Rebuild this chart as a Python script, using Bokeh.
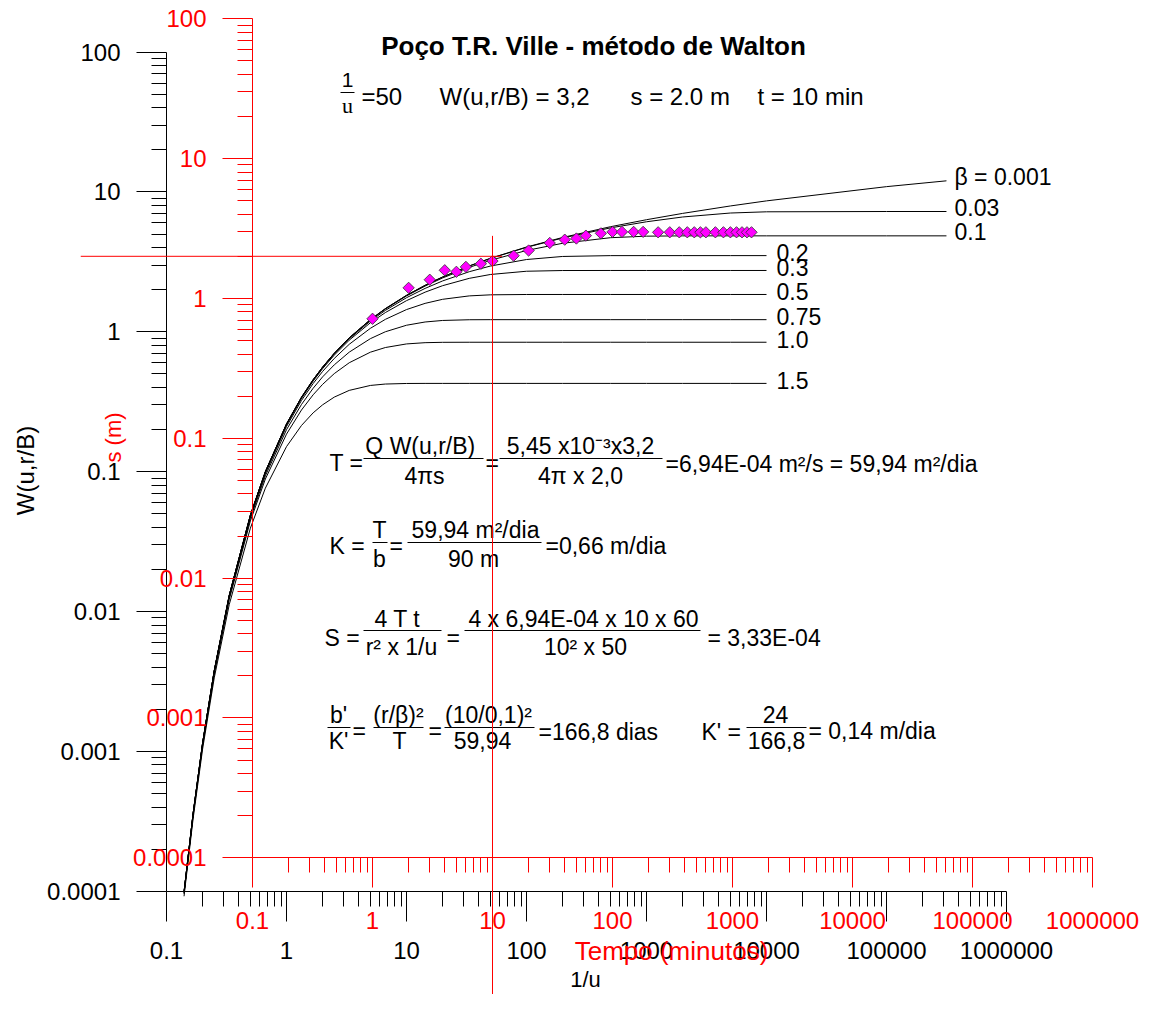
import math
from bokeh.plotting import figure
from bokeh.models import Range1d, LogAxis, FixedTicker, CustomJSTickFormatter, Label
from bokeh.core.properties import value
from bokeh.embed import file_html
from bokeh.resources import INLINE

# ---------------- data ----------------
# type curves: 1/u and W(u, r/B) (Walton / Hantush leaky curves)
INV_U = [0.14, 0.1667, 0.2, 0.25, 0.3333, 0.5, 0.6667, 1, 1.333, 1.667, 2, 2.5, 3.333,
         5, 6.667, 10, 14.29, 20, 33.33, 50, 100, 200, 500, 1000, 2000, 5000, 10000]
INV_U_LONG = INV_U + [100000, 316000]

W_B0001 = [0.0000987, 0.00036, 0.001148, 0.003779, 0.01305, 0.0489, 0.1, 0.2194, 0.3403,
           0.4544, 0.5598, 0.7024, 0.9057, 1.2227, 1.4645, 1.8229, 2.1508, 2.4679, 2.9591,
           3.3547, 4.0379, 4.7261, 5.6394, 6.3315, 7.0242, 7.9402, 8.6332, 10.911, 12.01]
W_B003 = [0.0000987, 0.00036, 0.001148, 0.003779, 0.01305, 0.0489, 0.1, 0.2194, 0.3403,
          0.4544, 0.5597, 0.7023, 0.9053, 1.2221, 1.4635, 1.8213, 2.1483, 2.4642, 2.9525,
          3.3444, 4.0167, 4.6829, 5.531, 6.120, 6.6216, 7.0683, 7.2122, 7.247, 7.247]
W_B01 = [0.0000987, 0.00036, 0.001148, 0.003778, 0.01304, 0.04885, 0.09988, 0.2190, 0.3396,
         0.4533, 0.5582, 0.7000, 0.9018, 1.2155, 1.4538, 1.805, 2.1232, 2.4271, 2.889,
         3.2442, 3.8150, 4.2959, 4.7078, 4.8292, 4.8530, 4.8541, 4.8541, 4.8541, 4.8541]
W_B02 = [0.0000986, 0.00036, 0.001146, 0.003771, 0.01301, 0.0487, 0.0995, 0.2179, 0.3374,
         0.4498, 0.5533, 0.6927, 0.8902, 1.1944, 1.4227, 1.7527, 2.0433, 2.3110, 2.6895,
         2.9521, 3.2875, 3.4567, 3.5043, 3.5054, 3.5054, 3.5054, 3.5054]
W_B03 = [0.0000984, 0.000359, 0.001143, 0.003761, 0.01297, 0.04848, 0.0989, 0.2161, 0.3339,
         0.4441, 0.5453, 0.6809, 0.8713, 1.1602, 1.3725, 1.6703, 1.9207, 2.1371, 2.4111,
         2.5688, 2.7105, 2.7429, 2.745, 2.745, 2.745, 2.745, 2.745]
W_B05 = [0.000098, 0.000357, 0.001136, 0.003729, 0.01283, 0.04774, 0.0970, 0.2103, 0.3227,
         0.4266, 0.5207, 0.6446, 0.8142, 1.0590, 1.2275, 1.4421, 1.5972, 1.7074, 1.8062,
         1.8378, 1.8485, 1.8488, 1.8488, 1.8488, 1.8488, 1.8488, 1.8488]
W_B075 = [0.000097, 0.0003526, 0.00112, 0.003668, 0.01256, 0.04633, 0.09339, 0.19957, 0.30218,
          0.39464, 0.47612, 0.58013, 0.7154, 0.8932, 1.0007, 1.1141, 1.1754, 1.2052, 1.2196,
          1.2211, 1.2212, 1.2212, 1.2212, 1.2212, 1.2212, 1.2212, 1.2212]
W_B10 = [0.0000956, 0.000347, 0.0010992, 0.0035844, 0.012194, 0.044435, 0.088566, 0.18549, 0.27583,
         0.35435, 0.4210, 0.5023, 0.6009, 0.7147, 0.7719, 0.8190, 0.8360, 0.8409, 0.8420,
         0.8420, 0.8420, 0.8420, 0.8420, 0.8420, 0.8420, 0.8420, 0.8420]
W_B15 = [0.000092, 0.000331, 0.001041, 0.003355, 0.011204, 0.039447, 0.07619, 0.15095, 0.2138,
         0.26331, 0.30051, 0.34119, 0.38119, 0.41342, 0.42309, 0.42711, 0.4276, 0.4276, 0.4276,
         0.4276, 0.4276, 0.4276, 0.4276, 0.4276, 0.4276, 0.4276, 0.4276]

LONG_LABELS = ["\u03b2 = 0.001", "0.03", "0.1"]
SHORT_LABELS = ["0.2", "0.3", "0.5", "0.75", "1.0", "1.5"]

# field data: time (min) and drawdown (m)
T_MIN = [1, 2, 3, 4, 5, 6, 8, 10, 15, 20, 30, 40, 50, 60, 80, 100, 120, 150, 180, 240, 300,
         360, 420, 480, 540, 600, 720, 840, 960, 1080, 1200, 1320, 1440]
S_M = [0.715, 1.19, 1.36, 1.59, 1.55, 1.68, 1.77, 1.85, 2.02, 2.20, 2.49, 2.63, 2.68, 2.81,
       2.92, 2.99, 2.99, 2.99, 2.99, 2.97, 2.97, 2.97, 2.97, 2.97, 2.97, 2.97, 2.97, 2.97,
       2.97, 2.97, 2.97, 2.97, 2.97]

# match point
MATCH_T = 10
MATCH_S = 2.0

# axis ticks
W_TICKS = [0.0001, 0.001, 0.01, 0.1, 1, 10, 100]
INVU_TICKS = [0.1, 1, 10, 100, 1000, 10000, 100000, 1000000]
S_TICKS = [0.0001, 0.001, 0.01, 0.1, 1, 10, 100]
T_TICKS = [0.1, 1, 10, 100, 1000, 10000, 100000, 1000000]

# ---------------- layout ----------------
FONT = "Liberation Sans"
RED = "#FF0000"
CW, CH = 1140, 994
X_01, X_DEC = 166.0, 120.0      # px of 1/u = 0.1, px per decade
Y_1E4, Y_DEC = 890.7, 139.85    # px of W = 1e-4, px per decade
T_PER_INVU = 0.192              # red (time) scale offset vs 1/u scale
S_PER_W = 0.577                 # red (drawdown) scale offset vs W scale


def bx(px):
    return 10 ** (-1 + (px - X_01) / X_DEC)


def by(py):
    return 10 ** (-4 + (Y_1E4 - py) / Y_DEC)


p = figure(width=CW, height=CH, x_axis_type="log", y_axis_type="log",
           x_range=Range1d(bx(0), bx(CW)),
           y_range=Range1d(by(CH), by(0)),
           x_axis_location=None, y_axis_location=None, min_border=0,
           toolbar_location=None, output_backend="svg", title=None)
p.extra_x_ranges = {"t": Range1d(bx(0) * T_PER_INVU, bx(CW) * T_PER_INVU)}
p.extra_y_ranges = {"s": Range1d(by(CH) * S_PER_W, by(0) * S_PER_W)}
p.outline_line_color = None
p.xgrid.visible = False
p.ygrid.visible = False
p.background_fill_color = "white"
p.border_fill_color = "white"

FMT = "return Number(tick.toPrecision(6)).toString();"


def minors(ticks):
    out = []
    for t in ticks[:-1]:
        out += [t * m for m in range(2, 10)]
    return out


def add_axis(side, color, ticks, xr, yr, loc, standoff):
    ax = LogAxis(x_range_name=xr, y_range_name=yr, fixed_location=loc,
                 bounds=(ticks[0], ticks[-1]),
                 ticker=FixedTicker(ticks=ticks, minor_ticks=minors(ticks)),
                 formatter=CustomJSTickFormatter(code=FMT),
                 axis_line_color=color, major_tick_line_color=color,
                 minor_tick_line_color=color, major_label_text_color=color,
                 major_label_text_font=FONT, major_label_text_font_size="24px",
                 major_tick_out=30, major_tick_in=0, minor_tick_out=15, minor_tick_in=0,
                 major_label_standoff=standoff, axis_line_width=1)
    p.add_layout(ax, side)


add_axis("left", "black", W_TICKS, "default", "default", INVU_TICKS[0], 16)
add_axis("below", "black", INVU_TICKS, "default", "default", W_TICKS[0], 21)
add_axis("left", RED, S_TICKS, "t", "s", T_TICKS[0], 16)
add_axis("below", RED, T_TICKS, "t", "s", S_TICKS[0], 24)

# type curves
long_curves = [W_B0001, W_B003, W_B01]
short_curves = [W_B02, W_B03, W_B05, W_B075, W_B10, W_B15]
for w in long_curves:
    p.line(INV_U_LONG, w, line_color="black", line_width=1)
for w in short_curves:
    p.line(INV_U, w, line_color="black", line_width=1)

p.text(x=[INV_U_LONG[-1]] * 3, y=[w[-1] for w in long_curves], text=LONG_LABELS,
       x_offset=8, y_offset=-4, text_baseline="middle", text_font=value(FONT),
       text_font_size="23px", text_color="black")
p.text(x=[INV_U[-1]] * 6, y=[w[-1] for w in short_curves], text=SHORT_LABELS,
       x_offset=10, y_offset=-3, text_baseline="middle", text_font=value(FONT),
       text_font_size="23px", text_color="black")

# field data
p.scatter(T_MIN, S_M, marker="square", size=8, angle=math.pi / 4,
          fill_color="#FF00FF", line_color="#303030", line_width=0.8,
          x_range_name="t", y_range_name="s")

# match-point cross
p.segment(x0=[MATCH_T / 2700, MATCH_T], y0=[MATCH_S, MATCH_S * 1.4],
          x1=[MATCH_T * 1.2, MATCH_T], y1=[MATCH_S, 1e-7],
          line_color=RED, line_width=1, x_range_name="t", y_range_name="s",
          level="overlay")

# ---------------- texts ----------------
FS = "23px"


def txt(px, py, s, align="left", size=FS, color="black", font=FONT, style="normal",
        angle=0):
    p.add_layout(Label(x=bx(px), y=by(py), text=s, text_align=align,
                       text_baseline="middle", text_font=font, text_font_size=size,
                       text_color=color, text_font_style=style, angle=angle,
                       angle_units="deg"))


bars = []


def hbar(a, b, py):
    bars.append((bx(a), bx(b), by(py)))


# title + header
txt(593, 45, "Poço T.R. Ville - método de Walton", "center", "26px", style="bold")
txt(347, 79, "1", "center", "21px")
hbar(340, 354, 92)
txt(347, 105, "u", "center", "22px", font="Liberation Serif")
txt(361, 96, "=50", size="24px")
txt(439, 96, "W(u,r/B) = 3,2", size="24px")
txt(630, 96, "s = 2.0 m", size="24px")
txt(757, 96, "t = 10 min", size="24px")

# axis titles
txt(25, 470, "W(u,r/B)", "center", "24px", angle=90)
txt(113, 437, "s (m)", "center", "22px", color=RED, angle=90)
txt(671, 950, "Tempo (minutos)", "center", "26px", color=RED)
txt(585, 979, "1/u", "center", "22px")

# T row
txt(329, 462, "T =")
txt(423, 445, "Q  W(u,r/B)", "center")
hbar(363, 483, 458)
txt(424, 475, "4\u03c0s", "center")
txt(485, 462, "=")
txt(580, 445, "5,45 x10\u207b\u00b3x3,2", "center")
hbar(499, 662, 458)
txt(580, 475, "4\u03c0 x 2,0", "center")
txt(665, 463, "=6,94E-04 m²/s = 59,94 m²/dia")

# K row
txt(329, 545, "K =")
txt(379, 529, "T", "center")
hbar(372, 387, 542)
txt(379, 558, "b", "center")
txt(389, 545, "=")
txt(475, 529, "59,94 m²/dia", "center")
hbar(407, 541, 542)
txt(473, 558, "90 m", "center")
txt(545, 545, "=0,66 m/dia")

# S row
txt(324, 637, "S =")
txt(397, 618, "4 T t", "center")
hbar(363, 441, 630)
txt(401, 646, "r² x 1/u", "center")
txt(446, 637, "=")
txt(583, 618, "4 x 6,94E-04 x 10 x 60", "center")
hbar(464, 700, 630)
txt(585, 646, "10² x 50", "center")
txt(707, 637, "= 3,33E-04")

# b'/K' row
txt(338, 714, "b'", "center")
hbar(327, 350, 727)
txt(338, 740, "K'", "center")
txt(352, 730, "=")
txt(398, 714, "(r/\u03b2)²", "center")
hbar(373, 423, 727)
txt(399, 740, "T", "center")
txt(428, 730, "=")
txt(488, 714, "(10/0,1)²", "center")
hbar(444, 534, 727)
txt(482, 740, "59,94", "center")
txt(538, 731, "=166,8 dias")
txt(701, 731, "K' =")
txt(775, 714, "24", "center")
hbar(746, 806, 727)
txt(776, 740, "166,8", "center")
txt(808, 730, "= 0,14 m/dia")

p.segment(x0=[b[0] for b in bars], x1=[b[1] for b in bars],
          y0=[b[2] for b in bars], y1=[b[2] for b in bars],
          line_color="black", line_width=1)

open("out.html", "w").write(file_html(p, INLINE))
